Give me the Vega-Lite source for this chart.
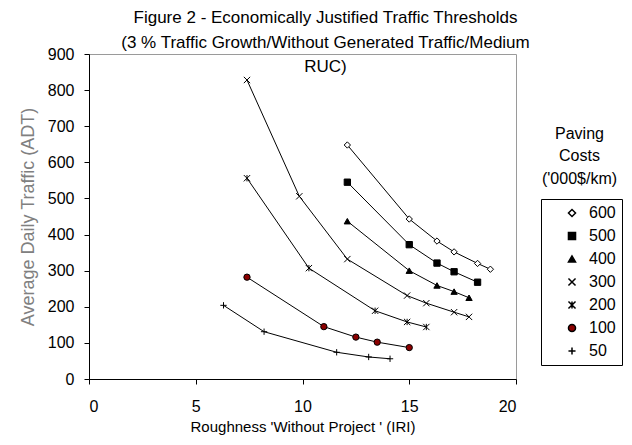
{
  "$schema": "https://vega.github.io/schema/vega-lite/v6.json",
  "width": 427,
  "height": 325,
  "autosize": {"type": "none"},
  "padding": {"left": 89, "top": 54, "right": 116, "bottom": 66},
  "background": "white",
  "config": {
    "font": "Liberation Sans",
    "view": {"stroke": "#9a9a9a", "strokeWidth": 1},
    "axis": {"grid": false, "domainColor": "black", "tickColor": "black", "labelColor": "black", "labelFontSize": 16, "labelFont": "Liberation Sans", "titleFont": "Liberation Sans", "titleFontWeight": "normal"}
  },
  "title": {
    "text": ["Figure 2 - Economically Justified Traffic Thresholds", "(3 % Traffic Growth/Without Generated Traffic/Medium", "RUC)"],
    "fontSize": 17,
    "font": "Liberation Sans",
    "fontWeight": "normal",
    "color": "black",
    "lineHeight": 24.5,
    "anchor": "middle",
    "frame": "group",
    "dx": 23,
    "offset": -30
  },
  "data": {
    "values": [
      {"c": "600", "x": 12.1, "y": 648}, {"c": "600", "x": 15.0, "y": 443}, {"c": "600", "x": 16.3, "y": 382}, {"c": "600", "x": 17.1, "y": 352}, {"c": "600", "x": 18.2, "y": 320}, {"c": "600", "x": 18.8, "y": 304},
      {"c": "500", "x": 12.1, "y": 545}, {"c": "500", "x": 15.0, "y": 372}, {"c": "500", "x": 16.3, "y": 321}, {"c": "500", "x": 17.1, "y": 297}, {"c": "500", "x": 18.2, "y": 268},
      {"c": "400", "x": 12.1, "y": 437}, {"c": "400", "x": 15.0, "y": 300}, {"c": "400", "x": 16.3, "y": 259}, {"c": "400", "x": 17.1, "y": 242}, {"c": "400", "x": 17.8, "y": 225},
      {"c": "300", "x": 7.4, "y": 828}, {"c": "300", "x": 9.85, "y": 506}, {"c": "300", "x": 12.1, "y": 332}, {"c": "300", "x": 14.9, "y": 231}, {"c": "300", "x": 15.8, "y": 210}, {"c": "300", "x": 17.1, "y": 185}, {"c": "300", "x": 17.8, "y": 172},
      {"c": "200", "x": 7.4, "y": 556}, {"c": "200", "x": 10.3, "y": 307}, {"c": "200", "x": 13.4, "y": 189}, {"c": "200", "x": 14.9, "y": 158}, {"c": "200", "x": 15.8, "y": 144},
      {"c": "100", "x": 7.4, "y": 282}, {"c": "100", "x": 11.0, "y": 145}, {"c": "100", "x": 12.5, "y": 116}, {"c": "100", "x": 13.5, "y": 102}, {"c": "100", "x": 15.0, "y": 87},
      {"c": "50", "x": 6.3, "y": 204}, {"c": "50", "x": 8.2, "y": 131}, {"c": "50", "x": 11.6, "y": 74}, {"c": "50", "x": 13.1, "y": 61}, {"c": "50", "x": 14.1, "y": 56}
    ]
  },
  "layer": [
    {
      "mark": {"type": "line", "color": "black", "strokeWidth": 1},
      "encoding": {
        "x": {"field": "x", "type": "quantitative", "scale": {"domain": [0, 20], "nice": false},
          "axis": {"values": [0, 5, 10, 15, 20], "tickSize": 5, "labelPadding": 14, "title": "Roughness 'Without Project ' (IRI)", "titleFontSize": 15, "titlePadding": 5, "titleColor": "black"}},
        "y": {"field": "y", "type": "quantitative", "scale": {"domain": [0, 900], "nice": false},
          "axis": {"values": [0, 100, 200, 300, 400, 500, 600, 700, 800, 900], "tickSize": 5, "labelPadding": 10, "title": "Average Daily Traffic (ADT)", "titleFontSize": 18, "titleColor": "#808080", "titlePadding": 10}},
        "detail": {"field": "c", "type": "nominal"}
      }
    },
    {
      "mark": {"type": "point", "size": 40, "stroke": "black", "strokeWidth": 1, "opacity": 1},
      "encoding": {
        "x": {"field": "x", "type": "quantitative", "scale": {"domain": [0, 20], "nice": false}},
        "y": {"field": "y", "type": "quantitative", "scale": {"domain": [0, 900], "nice": false},
          "axis": {"orient": "right", "labels": false, "ticks": false, "domain": false, "grid": false, "title": ["Paving", "Costs", "('000$/km)"], "titleAngle": 0, "titleAlign": "center", "titleBaseline": "alphabetic", "titleX": 63, "titleY": 84, "titleFontSize": 16, "titleLineHeight": 22.5, "titleColor": "black"}},
        "shape": {"field": "c", "type": "nominal",
          "scale": {"domain": ["600", "500", "400", "300", "200", "100", "50"], "range": ["diamond", "square", "triangle-up", "M-1,-1L1,1M-1,1L1,-1", "M-1,-1L1,1M-1,1L1,-1M0,-1V1", "circle", "M-1,0H1M0,-1V1"]},
          "legend": {"title": null, "orient": "none", "legendX": 452, "legendY": 145, "strokeColor": "black", "padding": 6, "symbolOffset": 17, "labelFontSize": 16, "labelOffset": 9, "rowPadding": 7, "symbolSize": 50,
            "encode": {"symbols": {"stroke": {"value": "black"}, "strokeWidth": {"value": 1}}}}},
        "fill": {"field": "c", "type": "nominal",
          "scale": {"domain": ["600", "500", "400", "300", "200", "100", "50"], "range": ["white", "black", "black", "transparent", "transparent", "#8b0000", "transparent"]},
          "legend": {"title": null, "orient": "none", "legendX": 452, "legendY": 145, "strokeColor": "black", "padding": 6, "symbolOffset": 17, "labelFontSize": 16, "labelOffset": 9, "rowPadding": 7, "symbolSize": 50,
            "encode": {"symbols": {"stroke": {"value": "black"}, "strokeWidth": {"value": 1}}}}}
      }
    }
  ],
  "resolve": {"scale": {"y": "independent"}}
}
